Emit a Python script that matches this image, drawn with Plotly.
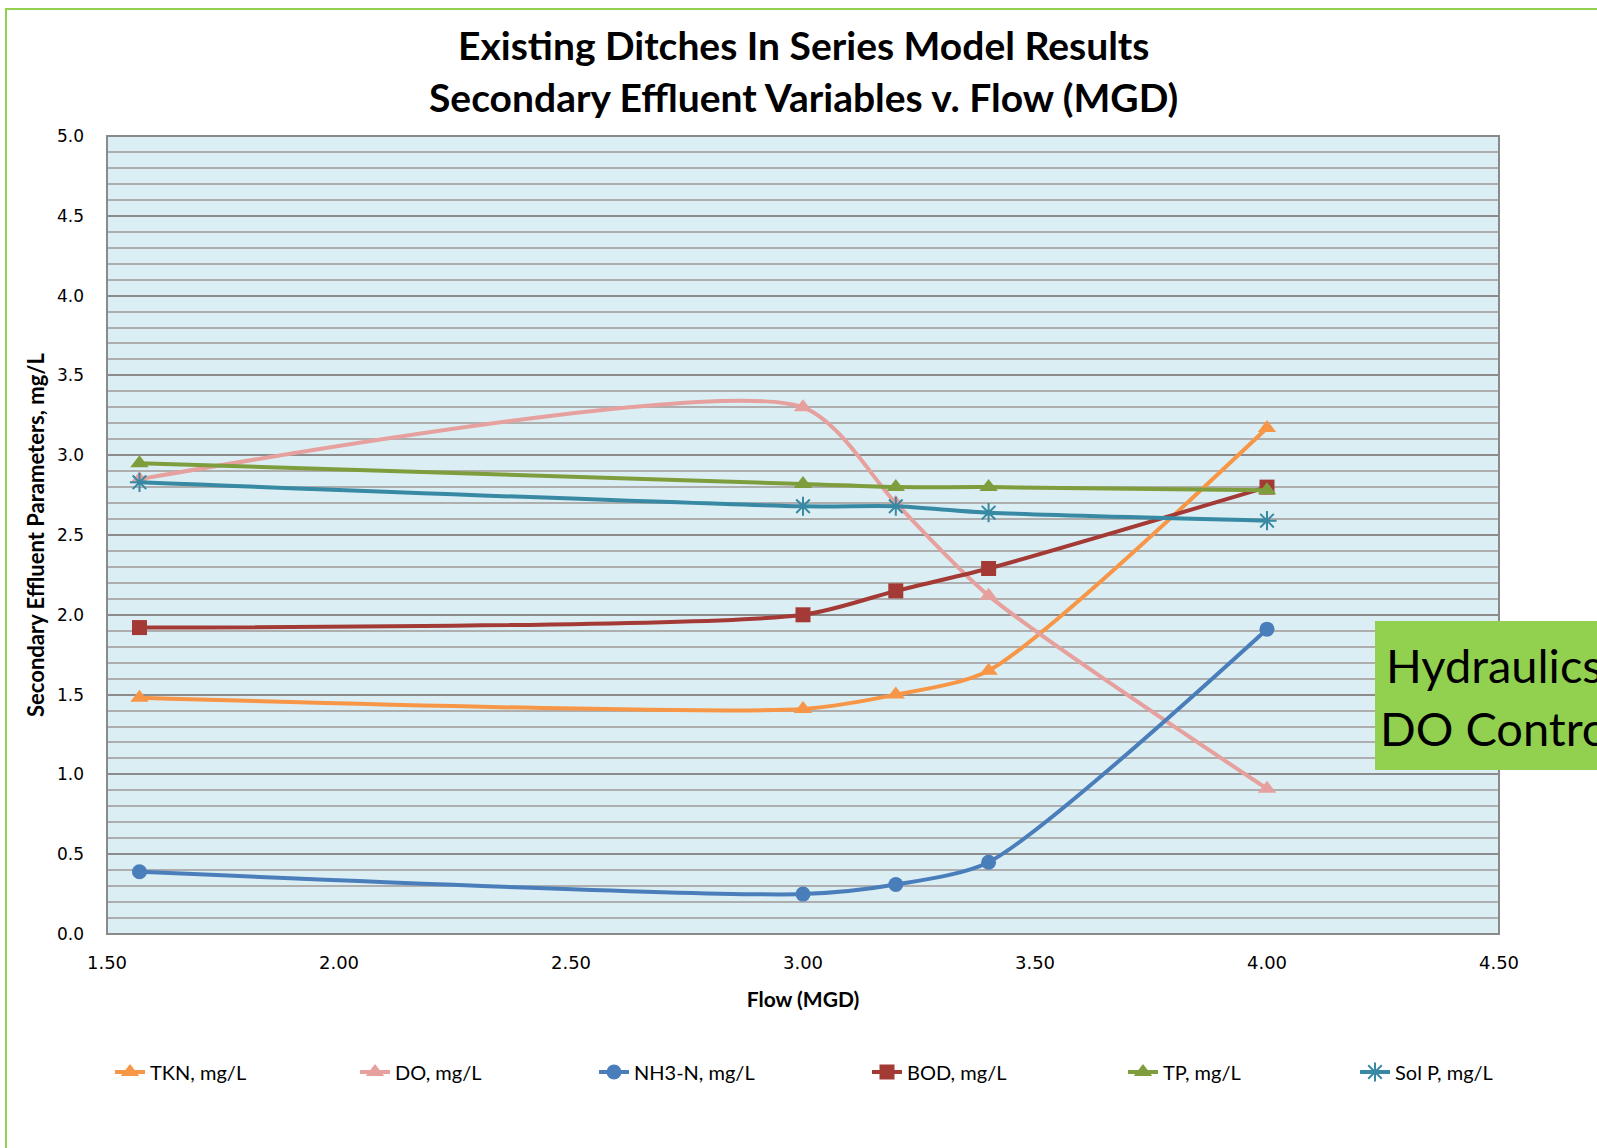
import plotly.graph_objects as go

# Model results: flow (MGD) vs. secondary effluent concentrations (mg/L)
flow = [1.57, 3.00, 3.20, 3.40, 4.00]

tkn = [1.48, 1.41, 1.50, 1.65, 3.17]
do = [2.85, 3.30, 2.70, 2.12, 0.91]
nh3n = [0.39, 0.25, 0.31, 0.45, 1.91]
bod = [1.92, 2.00, 2.15, 2.29, 2.80]
tp = [2.95, 2.82, 2.80, 2.80, 2.78]
sol_p = [2.83, 2.68, 2.68, 2.64, 2.59]

x_ticks = [1.5, 2.0, 2.5, 3.0, 3.5, 4.0, 4.5]
y_ticks = [0.0, 0.5, 1.0, 1.5, 2.0, 2.5, 3.0, 3.5, 4.0, 4.5, 5.0]

W, H = 1597, 1148
L, R, T, B = 107, 98, 136, 214
PW, PH = W - L - R, H - T - B


def px(xp):
    return (xp - L) / PW


def py(yp):
    return (H - B - yp) / PH


series = [
    ("TKN, mg/L", tkn, "#F79646", "triangle-up", 16, 110),
    ("DO, mg/L", do, "#E6A09E", "triangle-up", 16, 355),
    ("NH3-N, mg/L", nh3n, "#4A7EBB", "circle", 15, 594),
    ("BOD, mg/L", bod, "#A33A36", "square", 15, 867),
    ("TP, mg/L", tp, "#7E9D3C", "triangle-up", 16, 1123),
    ("Sol P, mg/L", sol_p, "#3889A3", "asterisk-open", 16, 1355),
]

fig = go.Figure()
legends = {}
for i, (name, vals, color, sym, size, lx) in enumerate(series):
    key = "legend" if i == 0 else f"legend{i + 1}"
    marker = dict(symbol=sym, size=size, color=color)
    if sym == "asterisk-open":
        marker["line"] = dict(color=color, width=2)
    fig.add_trace(go.Scatter(
        x=flow, y=vals, name=name, mode="lines+markers",
        line=dict(color=color, width=4, shape="spline", smoothing=0.7),
        marker=marker, legend=key,
    ))
    legends[key] = dict(
        x=px(lx), y=py(1072), xanchor="left", yanchor="middle",
        bgcolor="rgba(0,0,0,0)", font=dict(family="Lato", size=20, color="#000"),
        itemwidth=30,
    )

fig.update_layout(
    width=W, height=H,
    margin=dict(l=L, r=R, t=T, b=B),
    paper_bgcolor="white",
    plot_bgcolor="#DBEEF3",
    showlegend=True,
    **legends,
)

fig.update_xaxes(
    range=[1.5, 4.5], tickvals=x_ticks, ticktext=[f"{v:.2f}" for v in x_ticks],
    showgrid=False, zeroline=False, showline=False, ticks="",
    ticklabelstandoff=16,
    tickfont=dict(family="DejaVu Sans", size=18, color="#000"),
    title=dict(text="<b>Flow (MGD)</b>", font=dict(family="Lato", size=21, color="#000"), standoff=20),
)
fig.update_yaxes(
    range=[0, 5], tickvals=y_ticks, ticktext=[f"{v:.1f}" for v in y_ticks],
    showgrid=True, gridcolor="#8C8C8C", gridwidth=2,
    minor=dict(dtick=0.1, showgrid=True, gridcolor="#AEAEAE", gridwidth=1.5),
    zeroline=False, showline=False, ticks="",
    ticklabelstandoff=22,
    tickfont=dict(family="DejaVu Sans", size=17, color="#000"),
    title=dict(text="<b>Secondary Effluent Parameters, mg/L</b>",
               font=dict(family="Lato", size=22, color="#000"), standoff=6),
)

# Plot area frame and outer chart border
fig.add_shape(type="rect", xref="paper", yref="paper", x0=0, x1=1, y0=0, y1=1,
              line=dict(color="#8A8A8A", width=2), layer="above")
fig.add_shape(type="rect", xref="paper", yref="paper",
              x0=px(6), x1=px(1610), y0=py(1160), y1=py(9),
              line=dict(color="#92D050", width=2))

# Title
fig.add_annotation(text="<b>Existing Ditches In Series Model Results</b>",
                   xref="paper", yref="paper", x=px(803), y=py(45),
                   showarrow=False, xanchor="center", yanchor="middle",
                   font=dict(family="Lato", size=39, color="#000"))
fig.add_annotation(text="<b>Secondary Effluent Variables v. Flow (MGD)</b>",
                   xref="paper", yref="paper", x=px(803), y=py(97),
                   showarrow=False, xanchor="center", yanchor="middle",
                   font=dict(family="Lato", size=39, color="#000"))

# Callout box
fig.add_shape(type="rect", xref="paper", yref="paper",
              x0=px(1375), x1=px(1650), y0=py(770), y1=py(621),
              fillcolor="#92D050", line=dict(width=0), layer="above")
fig.add_annotation(text="Hydraulics", xref="paper", yref="paper",
                   x=px(1384), y=py(665), showarrow=False,
                   xanchor="left", yanchor="middle",
                   font=dict(family="Lato", size=47, color="#000"))
fig.add_annotation(text="DO Control", xref="paper", yref="paper",
                   x=px(1378), y=py(728), showarrow=False,
                   xanchor="left", yanchor="middle",
                   font=dict(family="Lato", size=47, color="#000"))

fig.write_html("out.html")
